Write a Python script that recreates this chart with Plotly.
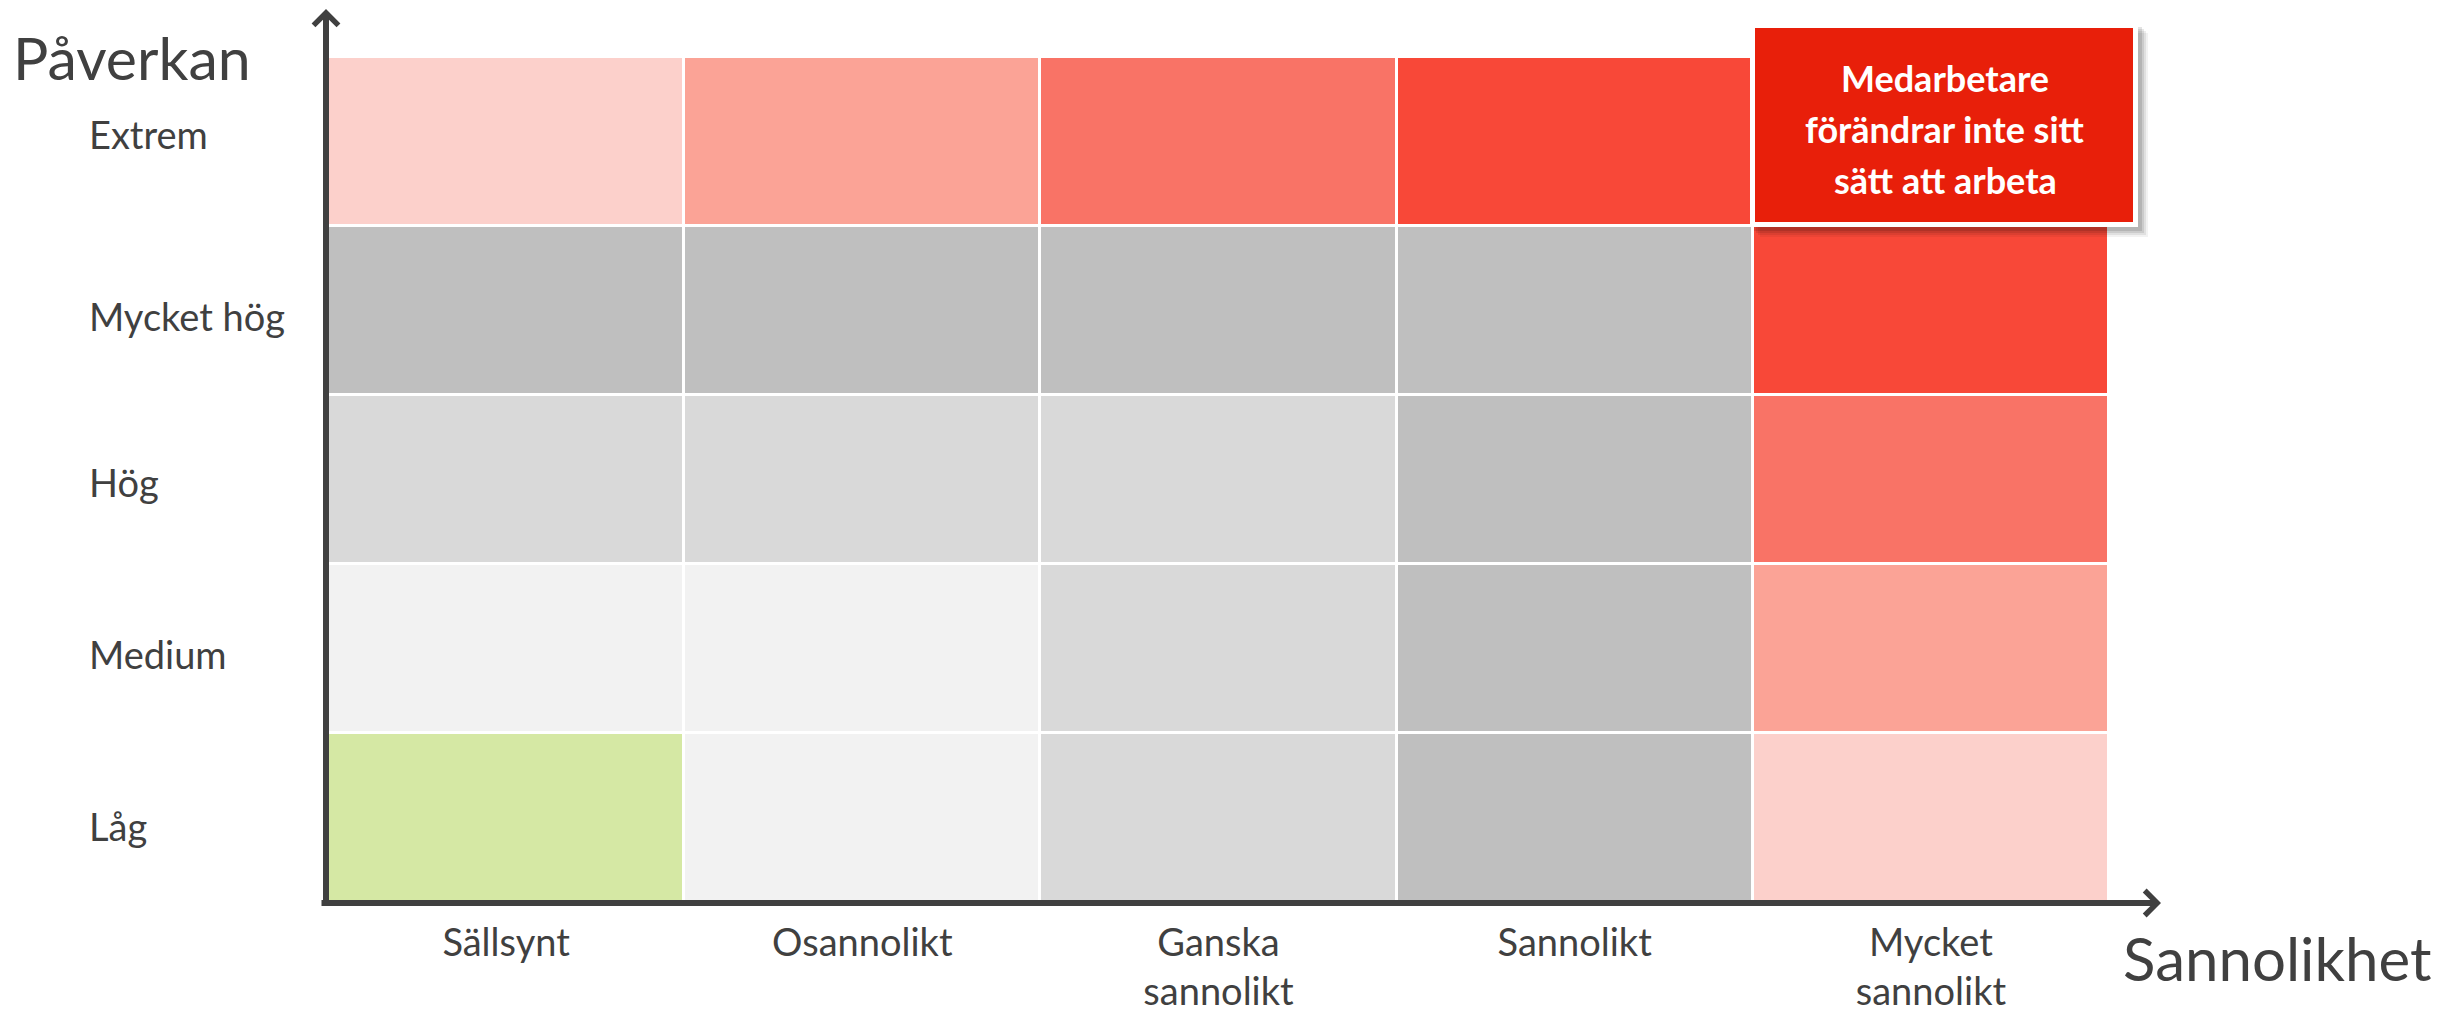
import plotly.graph_objects as go

# ---- data ----
x_categories = ["Sällsynt", "Osannolikt", "Ganska<br>sannolikt", "Sannolikt", "Mycket<br>sannolikt"]
y_categories = ["Låg", "Medium", "Hög", "Mycket hög", "Extrem"]  # bottom -> top
# risk level per cell (rows bottom -> top, columns left -> right)
risk_levels = [
    [0, 1, 2, 3, 4],   # Låg
    [1, 1, 2, 3, 5],   # Medium
    [2, 2, 2, 3, 6],   # Hög
    [3, 3, 3, 3, 7],   # Mycket hög
    [4, 5, 6, 7, 8],   # Extrem
]
level_colors = ["#D5E8A4", "#F2F2F2", "#D9D9D9", "#BFBFBF",
                "#FCD0CB", "#FBA396", "#F97366", "#F84838", "#E81F0A"]
callout_lines = ["Medarbetare", "förändrar inte sitt", "sätt att arbeta"]
y_title = "Påverkan"
x_title = "Sannolikhet"

# ---- layout geometry (reference pixel positions, page has 8px body margin) ----
OFF = 8
W, H = 2450 - OFF, 1013 - OFF
L, T = 328 - OFF, 57 - OFF
R = W - (2109 - OFF)
B = H - (902 - OFF)
PW, PH = W - L - R, H - T - B
def px(xp):
    return (xp - OFF - L) / PW
def py(yp):
    return 1 - (yp - OFF - T) / PH

TXT = "#404040"
FONT = "Lato"
label_yshift = [-8, -5, -2, -5, 8]  # small vertical offsets of row labels (bottom -> top)

n = len(level_colors)
colorscale = []
for i, c in enumerate(level_colors):
    colorscale.append([i / n, c])
    colorscale.append([(i + 1) / n, c])

fig = go.Figure()
fig.add_trace(go.Heatmap(
    x=list(range(len(x_categories))),
    y=list(range(len(y_categories))),
    z=risk_levels,
    zmin=0, zmax=n,
    colorscale=colorscale,
    showscale=False,
    xgap=3, ygap=3,
    hoverinfo="skip",
))

annotations = []
# y labels (left aligned)
for i, lab in enumerate(y_categories):
    annotations.append(dict(x=px(87), xref="paper", y=i, yref="y", text=lab,
                            showarrow=False, xanchor="left", yanchor="middle",
                            yshift=label_yshift[i],
                            font=dict(family=FONT, size=38, color=TXT)))
# titles
annotations.append(dict(x=px(11), xref="paper", y=py(57), yref="paper", text=y_title,
                        showarrow=False, xanchor="left", yanchor="middle",
                        font=dict(family=FONT, size=59, color=TXT)))
annotations.append(dict(x=px(2121), xref="paper", y=py(958), yref="paper", text=x_title,
                        showarrow=False, xanchor="left", yanchor="middle",
                        font=dict(family=FONT, size=60, color=TXT)))
# axis arrows
annotations.append(dict(x=px(326), y=py(7), xref="paper", yref="paper", text="",
                        showarrow=True, ax=0, ay=899, axref="pixel", ayref="pixel",
                        arrowhead=4, arrowsize=0.8, arrowwidth=6, arrowcolor=TXT, standoff=0))
annotations.append(dict(x=px(2161), y=py(903), xref="paper", yref="paper", text="",
                        showarrow=True, ax=-1841, ay=0, axref="pixel", ayref="pixel",
                        arrowhead=4, arrowsize=0.8, arrowwidth=6, arrowcolor=TXT, standoff=0))
# callout text (one annotation per line for the wider line spacing)
for k, line in enumerate(callout_lines):
    annotations.append(dict(x=px(1945), y=py(78 + 51 * k), xref="paper", yref="paper", text=line,
                            showarrow=False, xanchor="center", yanchor="middle", align="center",
                            font=dict(family=FONT, size=36, color="white", weight="bold")))

shapes = []
# callout shadow
for k, a in [(10, 0.05), (8, 0.07), (6, 0.09), (4, 0.11)]:
    shapes.append(dict(type="rect", xref="paper", yref="paper",
                       x0=px(1750 + k), x1=px(2138 + k), y0=py(227 + k), y1=py(23 + k),
                       fillcolor=f"rgba(0,0,0,{a})", line=dict(width=0), layer="above"))
# white border
shapes.append(dict(type="rect", xref="paper", yref="paper",
                   x0=px(1750), x1=px(2138), y0=py(227), y1=py(23),
                   fillcolor="white", line=dict(width=0), layer="above"))
# red box
shapes.append(dict(type="rect", xref="paper", yref="paper",
                   x0=px(1755), x1=px(2133), y0=py(222), y1=py(28),
                   fillcolor=level_colors[-1], line=dict(width=0), layer="above"))

fig.update_layout(
    width=W, height=H,
    margin=dict(l=L, r=R, t=T, b=B, pad=0, autoexpand=False),
    paper_bgcolor="white", plot_bgcolor="white",
    showlegend=False,
    annotations=annotations,
    shapes=shapes,
    xaxis=dict(range=[-0.5, len(x_categories) - 0.5], tickmode="array",
               tickvals=list(range(len(x_categories))), ticktext=x_categories,
               showgrid=False, zeroline=False, showline=False, ticks="",
               automargin=False, ticklabelstandoff=15,
               tickfont=dict(family=FONT, size=38, color=TXT)),
    yaxis=dict(range=[-0.5, len(y_categories) - 0.5], showticklabels=False,
               automargin=False,
               showgrid=False, zeroline=False, showline=False, ticks=""),
)

fig.write_html("out.html")
